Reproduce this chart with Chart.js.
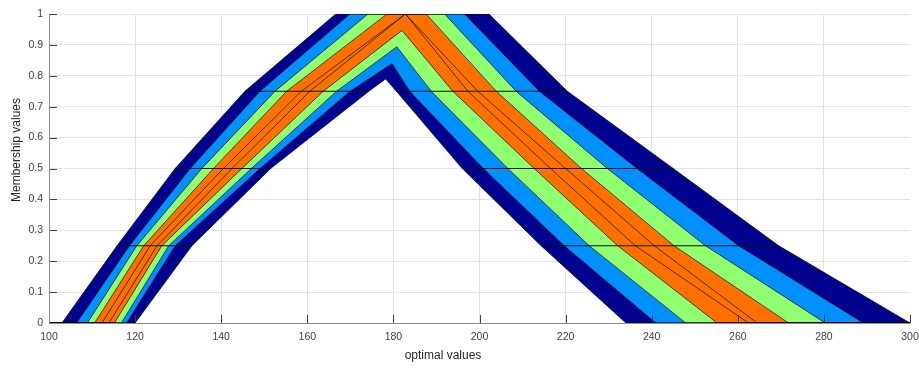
<!DOCTYPE html>
<html>
<head>
<meta charset="utf-8">
<script src="https://cdn.jsdelivr.net/npm/chart.js@4.4.1/dist/chart.umd.min.js"></script>
<style>
  html, body { margin: 0; padding: 0; background: #fff; }
  #wrap { width: 919px; height: 370px; position: relative; }
</style>
</head>
<body>
<div id="wrap"><canvas id="chart"></canvas></div>
<script>
// alpha levels of the cuts
const alphaCuts = [0, 0.25, 0.5, 0.75];
const xMin = 100, xMax = 300;

// each curve: left x at alpha cuts, right x at alpha cuts, peak [xLeft, xRight, height]
const umf1L = [103.0, 115.8, 129.3, 145.5], umf1R = [300.0, 269.5, 245.0, 220.4], umf1Top = [166.6, 202.2, 1];
const umf2L = [106.4, 118.7, 132.8, 149.0], umf2R = [289.2, 260.2, 236.6, 213.9], umf2Top = [169.9, 196.5, 1];
const umf3L = [108.9, 120.4, 135.5, 152.5], umf3R = [280.3, 252.5, 229.7, 208.5], umf3Top = [174.1, 191.9, 1];
const umf4L = [110.6, 122.0, 138.2, 155.2], umf4R = [271.8, 245.2, 223.7, 203.9], umf4Top = [178.5, 187.6, 1];
const mid1L = [112.3, 123.5, 140.5, 158.6], mid1R = [264.5, 240.6, 220.0, 199.6], mid1Top = [182.8, 182.8, 1];
const mid2L = [113.9, 125.1, 142.5, 160.6], mid2R = [262.5, 236.2, 216.5, 197.3], mid2Top = [182.8, 182.8, 1];
const lmf4L = [115.2, 126.2, 144.8, 163.7], lmf4R = [255.2, 232.1, 212.7, 193.8], lmf4Top = [182.0, 182.0, 0.947];
const lmf3L = [116.8, 127.8, 147.0, 166.8], lmf3R = [247.9, 225.5, 206.6, 188.8], lmf3Top = [180.8, 180.8, 0.894];
const lmf2L = [118.0, 129.3, 149.0, 169.9], lmf2R = [241.0, 219.7, 200.9, 183.8], lmf2Top = [179.7, 179.7, 0.84];
const lmf1L = [120.0, 133.2, 151.5, 174.3], lmf1R = [234.0, 214.3, 196.0, 180.7], lmf1Top = [178.2, 178.2, 0.79];

const xTicks = [100, 120, 140, 160, 180, 200, 220, 240, 260, 280, 300];
const yTicks = [0, 0.1, 0.2, 0.3, 0.4, 0.5, 0.6, 0.7, 0.8, 0.9, 1];

// colour of the band between a curve and the next one
const darkBlue = '#00008f', lightBlue = '#0090ff', green = '#90ff70', orange = '#ff7000';
const curves = [
  [umf1L, umf1Top, umf1R, darkBlue],
  [umf2L, umf2Top, umf2R, lightBlue],
  [umf3L, umf3Top, umf3R, green],
  [umf4L, umf4Top, umf4R, orange],
  [mid1L, mid1Top, mid1R, orange],
  [mid2L, mid2Top, mid2R, orange],
  [lmf4L, lmf4Top, lmf4R, green],
  [lmf3L, lmf3Top, lmf3R, lightBlue],
  [lmf2L, lmf2Top, lmf2R, darkBlue],
  [lmf1L, lmf1Top, lmf1R, null]
];

function curvePoints(left, top, right) {
  const pts = [];
  if (left[0] > xMin) pts.push({x: xMin, y: 0});
  left.forEach((x, i) => pts.push({x: x, y: alphaCuts[i]}));
  pts.push({x: top[0], y: top[2]});
  if (top[1] !== top[0]) pts.push({x: top[1], y: top[2]});
  for (let i = right.length - 1; i >= 0; i--) pts.push({x: right[i], y: alphaCuts[i]});
  if (right[0] < xMax) pts.push({x: xMax, y: 0});
  return pts;
}

const datasets = curves.map(c => ({
  data: curvePoints(c[0], c[1], c[2]),
  showLine: true,
  borderColor: '#000',
  borderWidth: 0.7,
  pointRadius: 0,
  backgroundColor: c[3] || 'transparent',
  fill: c[3] ? '+1' : false
}));

// horizontal alpha-cut lines across the outer band
for (let i = 1; i < alphaCuts.length; i++) {
  const a = alphaCuts[i];
  datasets.push({ data: [{x: umf1L[i], y: a}, {x: lmf1L[i], y: a}], showLine: true, borderColor: '#111', borderWidth: 1, pointRadius: 0, fill: false });
  datasets.push({ data: [{x: lmf1R[i], y: a}, {x: umf1R[i], y: a}], showLine: true, borderColor: '#111', borderWidth: 1, pointRadius: 0, fill: false });
}

const axisDecor = {
  id: 'axisDecor',
  beforeDatasetsDraw(chart) {
    const {ctx, chartArea, scales} = chart;
    ctx.save();
    ctx.strokeStyle = '#404040';
    ctx.lineWidth = 1;
    ctx.beginPath();
    xTicks.forEach(v => {
      const px = Math.round(scales.x.getPixelForValue(v)) + 0.5;
      ctx.moveTo(px, chartArea.bottom);
      ctx.lineTo(px, chartArea.bottom - 8);
    });
    yTicks.forEach(v => {
      const py = Math.round(scales.y.getPixelForValue(v)) + 0.5;
      ctx.moveTo(chartArea.left, py);
      ctx.lineTo(chartArea.left + 8, py);
    });
    ctx.stroke();
    ctx.restore();
  },
  afterDatasetsDraw(chart) {
    // axis lines sit on top of the patches, as in the original figure
    const {ctx, chartArea} = chart;
    ctx.save();
    ctx.strokeStyle = '#8c8c8c';
    ctx.lineWidth = 1;
    ctx.beginPath();
    const yb = Math.round(chartArea.bottom) + 0.5;
    const xl = Math.round(chartArea.left) + 0.5;
    ctx.moveTo(xl, chartArea.top);
    ctx.lineTo(xl, yb);
    ctx.lineTo(chartArea.right, yb);
    ctx.stroke();
    ctx.restore();
  },
  afterDraw(chart) {
    const {ctx} = chart;
    ctx.save();
    ctx.fillStyle = '#262626';
    ctx.font = '12px "Liberation Sans", Arial, sans-serif';
    ctx.textAlign = 'center';
    ctx.textBaseline = 'middle';
    ctx.fillText('optimal values', 443, 356);
    ctx.translate(17, 150);
    ctx.rotate(-Math.PI / 2);
    ctx.fillText('Membership values', 0, 0);
    ctx.restore();
  }
};

new Chart(document.getElementById('chart'), {
  type: 'scatter',
  data: { datasets: datasets },
  plugins: [axisDecor],
  options: {
    responsive: true,
    maintainAspectRatio: false,
    animation: false,
    layout: { autoPadding: false, padding: { top: 14, right: 9, left: 0, bottom: 0 } },
    plugins: {
      legend: { display: false },
      tooltip: { enabled: false },
      filler: { propagate: false, drawTime: 'beforeDatasetsDraw' }
    },
    scales: {
      x: {
        type: 'linear',
        min: xMin, max: xMax,
        afterFit: s => { s.height = 47; s.paddingLeft = 0; s.paddingRight = 0; },
        afterBuildTicks: s => { s.ticks = xTicks.map(v => ({value: v})); },
        grid: { color: c => c.tick && c.tick.value === 300 ? 'rgba(0,0,0,0)' : '#e3e3e3', drawTicks: false },
        border: { display: false },
        ticks: { color: '#404040', font: { family: '"Liberation Sans", Arial, sans-serif', size: 10.5 }, padding: 8, maxRotation: 0 }
      },
      y: {
        type: 'linear',
        min: 0, max: 1,
        afterFit: s => { s.width = 49; s.paddingTop = 0; s.paddingBottom = 0; },
        afterBuildTicks: s => { s.ticks = yTicks.map(v => ({value: v})); },
        grid: { color: c => c.tick && c.tick.value === 0 ? 'rgba(0,0,0,0)' : '#e3e3e3', drawTicks: false },
        border: { display: false },
        ticks: { color: '#404040', font: { family: '"Liberation Sans", Arial, sans-serif', size: 10.5 }, padding: 6,
          callback: v => String(Number(v.toFixed(1))) }
      }
    }
  }
});
</script>
</body>
</html>
